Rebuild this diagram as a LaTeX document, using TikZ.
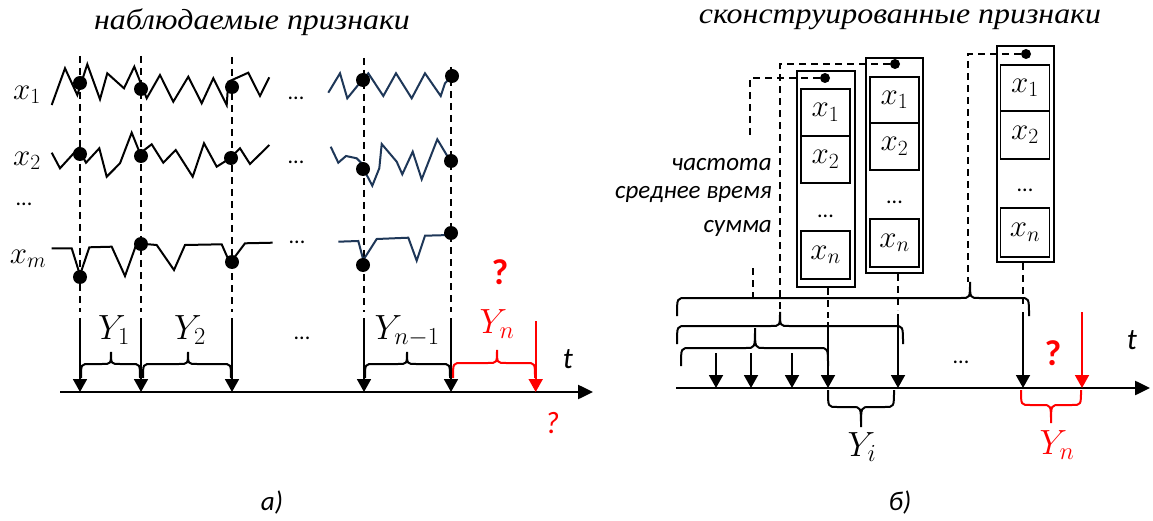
\RequirePackage{fix-cm}
\documentclass[tikz,border=0pt]{standalone}
\usepackage{fontspec}
\setmainfont{Liberation Serif}
\newfontfamily\calfont{Carlito}
\usetikzlibrary{arrows.meta}

\definecolor{signavy}{RGB}{30,55,88}
\definecolor{fcred}{RGB}{255,0,0}

\newcommand{\sz}[1]{\fontsize{#1}{#1}\selectfont}
% [options] x-left, x-right, x-tip, y-line, y-ends, y-tip
\newcommand{\curlybrace}[7][]{%
  \draw[bracepen,#1] (#2,#6) .. controls (#2,#5) .. ({#2+9},#5) -- ({#4-9},#5)
    .. controls (#4,#5) .. (#4,#7) .. controls (#4,#5) .. ({#4+9},#5)
    -- ({#3-9},#5) .. controls (#3,#5) .. (#3,#6);}

\tikzset{
  sig/.style={line width=2pt, line join=miter},
  signal2/.style={sig, draw=signavy},
  guide/.style={line width=2pt, dash pattern=on 7pt off 5pt},
  tickarrow/.style={line width=1.8pt, -{Triangle[length=13pt,width=14pt]}},
  axisline/.style={line width=2.5pt, -{Triangle[length=15pt,width=14pt]}},
  bracepen/.style={line width=2pt},
  bigdot/.style={circle, fill=black, inner sep=0pt, minimum size=14pt},
  smalldot/.style={circle, fill=black, inner sep=0pt, minimum size=10pt},
  cell/.style={draw, line width=1.5pt, minimum width=49pt, inner sep=0pt},
  outerbox/.style={draw, line width=1.6pt, inner sep=0pt},
  mathlbl/.style={inner sep=0pt, font=\sz{31}},
  ylbl/.style={inner sep=0pt, font=\sz{35}},
  sanslbl/.style={inner sep=0pt, font=\calfont\itshape\sz{25}},
  dotslbl/.style={inner sep=0pt, font=\calfont\sz{22}},
  qmark/.style={inner sep=0pt, text=fcred, font=\calfont\bfseries\sz{36}},
}

\begin{document}
\begin{tikzpicture}[x=1pt,y=-1pt]
\useasboundingbox (0,0) rectangle (1153,521);
\fill[white] (0,0) rectangle (1153,521);

% ---------------- panel a: observed features ----------------
\node[inner sep=0pt] (titleA) at (252,22) {\scalebox{1.1}[1]{\sz{29}\itshape наблюдаемые признаки}};

\node[mathlbl] (lx1) at (27,95) {$x_1$};
\node[mathlbl] (lx2) at (27,161) {$x_2$};
\node[dotslbl] (lxd) at (24,204) {...};
\node[mathlbl] (lxm) at (28,259) {$x_m$};

% sampling guides and event arrows
\foreach \i/\x/\t in {1/80/56, 2/141/56, 3/232/57, 4/364/58, 5/451/67} {
  \coordinate (gt\i) at (\x,\t);
  \coordinate (gb\i) at (\x,312);
  \coordinate (at\i) at (\x,318);
  \coordinate (ab\i) at (\x,392);
  \draw[guide] (gt\i) -- (gb\i);
  \draw[tickarrow] (at\i) -- (ab\i);
}

% signal x_1
\draw[sig] (51.7,105) -- (65,68.3) -- (77.3,95) -- (87.3,64.3) -- (100,99.3) -- (107.3,73.3)
  -- (124,88.3) -- (134.3,66.7) -- (146.7,98.3) -- (160,75) -- (173.3,101.7) -- (188.3,76.7)
  -- (201.7,103.3) -- (213.3,78.3) -- (226.7,105) -- (228.3,81.7) -- (248.3,72.7) -- (260,96) -- (269.3,77.3);
\draw[signal2] (328.3,92.7) -- (340,73.3) -- (347.3,98.3) -- (357.3,86) -- (362.7,80) -- (368.3,73.3)
  -- (383.3,96) -- (396,73.3) -- (411.7,98.3) -- (425,73.3) -- (440.7,96) -- (445,83.3) -- (451.7,76);
% signal x_2
\draw[sig] (51.7,152.7) -- (60,168.3) -- (78.3,148.3) -- (86,162.7) -- (99.3,148.3) -- (106.7,176.7)
  -- (120,163.3) -- (131.7,132.7) -- (140,153.3) -- (151.7,144.3) -- (163.3,162.7) -- (175.7,150)
  -- (192.7,176.7) -- (204,143.3) -- (216.7,166.7) -- (230,158.3) -- (240,148.3) -- (250,164) -- (269.3,145);
\draw[signal2] (330.7,146.7) -- (338.3,162.7) -- (346,156) -- (356.7,158.3) -- (361.7,163.3) -- (366.7,175)
  -- (372.3,185.7) -- (379.3,168.3) -- (381.7,144) -- (396.7,161.7) -- (402.3,174.3) -- (412.7,151.7)
  -- (421.7,179.3) -- (437.3,139.3) -- (450.7,161.7);
% signal x_m
\draw[sig] (51.7,248.3) -- (71.7,248.3) -- (80,275) -- (89.3,247.3) -- (111.7,246.7) -- (125,276)
  -- (136.7,243.3) -- (156.7,245) -- (174,270) -- (185,245) -- (221.7,244.3) -- (230,263.3)
  -- (245,243.3) -- (272.7,242.7);
\draw[signal2] (338.3,241.7) -- (358.3,241) -- (363.3,260) -- (376.7,239) -- (408.3,237.7)
  -- (416.7,260.7) -- (425,235.7) -- (450,235);

\node[dotslbl] (ld1) at (296,98) {...};
\node[dotslbl] (ld2) at (296,162) {...};
\node[dotslbl] (ld3) at (297,242) {...};

% samples
\foreach \n/\x/\y in {p11/80/83, p12/141/89, p13/232/87, p14/363/80, p15/452/76,
                      p21/80/154, p22/141/156, p23/231/158, p24/363/169, p25/451/161,
                      p31/80/277, p32/141/244, p33/232/262, p34/363/265, p35/451/233} {
  \node[bigdot] (\n) at (\x,\y) {};
}

% time axis a
\coordinate (axAs) at (60,392);
\coordinate (axAe) at (593,392);
\draw[axisline] (axAs) -- (axAe);
\node[inner sep=0pt, font=\calfont\itshape\sz{30}] (tA) at (568,359) {t};

% red target arrow
\coordinate (rt) at (535.7,321);
\coordinate (rb) at (535.7,392);
\draw[tickarrow, draw=fcred, fill=fcred] (rt) -- (rb);

% interval braces
\curlybrace{81}{140}{111}{364}{378}{352}
\curlybrace{143}{231}{188}{364}{378}{352}
\curlybrace{365}{450}{407}{364}{378}{352}
\curlybrace[draw=fcred]{453}{535}{497}{363}{378}{350}

\node[ylbl] (y1) at (114,330) {$Y_1$};
\node[ylbl] (y2) at (190,330) {$Y_2$};
\node[ylbl] (yn1) at (407,331) {$Y_{n-1}$};
\node[ylbl, text=fcred] (ynA) at (497,324) {$Y_n$};
\node[dotslbl] (ld4) at (302,338) {...};
\node[qmark] (qA) at (500,272) {?};
\node[inner sep=0pt, text=fcred, font=\calfont\itshape\sz{31}] (qA2) at (552,423) {?};

\node[inner sep=0pt, font=\calfont\itshape\sz{27}] (capA) at (272,502) {а)};

% ---------------- panel b: engineered features ----------------
\node[inner sep=0pt] (titleB) at (900,20) {\scalebox{1.1}[1]{\sz{29}\itshape сконструированные признаки}};

% window links from each feature vector
\node[smalldot] (k1) at (825,78) {};
\node[smalldot] (k2) at (895,64) {};
\node[smalldot] (k3) at (1026,54) {};
\coordinate (w1a) at (750,78);
\coordinate (w1b) at (750,135);
\coordinate (w1c) at (753,268);
\coordinate (w1d) at (753,298);
\coordinate (w2a) at (780,64);
\coordinate (w2b) at (780,313);
\coordinate (w3a) at (968,54);
\coordinate (w3b) at (968,282);
\draw[guide] (k1) -- (w1a) -- (w1b);
\draw[guide] (w1c) -- (w1d);
\draw[guide] (k2) -- (w2a) -- (w2b);
\draw[guide] (k3) -- (w3a) -- (w3b);

% feature vectors
\node[outerbox, minimum width=58pt, minimum height=216pt] (vb1) at (826,179) {};
\node[cell, minimum height=47pt] (v1a) at (825.5,112.5) {\sz{31}$x_1$};
\node[cell, minimum height=47pt] (v1b) at (825.5,159.5) {\sz{31}$x_2$};
\node[dotslbl] (v1c) at (825.5,216) {...};
\node[cell, minimum height=48pt] (v1d) at (825.5,255) {\sz{31}$x_n$};

\node[outerbox, minimum width=57pt, minimum height=215pt] (vb2) at (894.5,165.5) {};
\node[cell, minimum height=46pt] (v2a) at (894.5,100) {\sz{31}$x_1$};
\node[cell, minimum height=47pt] (v2b) at (894.5,146.5) {\sz{31}$x_2$};
\node[dotslbl] (v2c) at (894.5,202) {...};
\node[cell, minimum height=48pt] (v2d) at (894.5,243) {\sz{31}$x_n$};

\node[outerbox, minimum width=57pt, minimum height=216pt] (vb3) at (1025.5,154) {};
\node[cell, minimum height=46pt] (v3a) at (1025,88) {\sz{31}$x_1$};
\node[cell, minimum height=48pt] (v3b) at (1025,135) {\sz{31}$x_2$};
\node[dotslbl] (v3c) at (1025,190) {...};
\node[cell, minimum height=49pt] (v3d) at (1025,232.5) {\sz{31}$x_n$};

\node[sanslbl, anchor=east] (f1) at (772,165) {частота};
\node[sanslbl, anchor=east] (f2) at (772,195) {среднее время};
\node[sanslbl, anchor=east] (f3) at (772,228) {сумма};

% feature time stamps
\coordinate (e1a) at (828,288);
\coordinate (e1b) at (828,318);
\coordinate (e1c) at (828,322);
\coordinate (e1d) at (828,388);
\coordinate (e2a) at (898,274);
\coordinate (e2b) at (898,310);
\coordinate (e2c) at (898,314);
\coordinate (e2d) at (898,388);
\coordinate (e3a) at (1023,263);
\coordinate (e3b) at (1023,304);
\coordinate (e3c) at (1023,312);
\coordinate (e3d) at (1023,388);
\draw[guide] (e1a) -- (e1b);
\draw[guide] (e2a) -- (e2b);
\draw[guide] (e3a) -- (e3b);
\draw[tickarrow] (e1c) -- (e1d);
\draw[tickarrow] (e2c) -- (e2d);
\draw[tickarrow] (e3c) -- (e3d);

% raw events
\foreach \i/\x in {1/716, 2/751, 3/792} {
  \coordinate (ev\i) at (\x,353);
  \coordinate (eb\i) at (\x,388);
  \draw[tickarrow] (ev\i) -- (eb\i);
}

% time axis b
\coordinate (axBs) at (676,388);
\coordinate (axBe) at (1150,388);
\draw[axisline] (axBs) -- (axBe);
\node[inner sep=0pt, font=\calfont\itshape\sz{30}] (tB) at (1132,340) {t};

\coordinate (rt2) at (1082,312);
\coordinate (rb2) at (1082,388);
\draw[tickarrow, draw=fcred, fill=fcred] (rt2) -- (rb2);

% aggregation windows
\curlybrace{677}{1029}{970}{298}{316}{282}
\curlybrace{677}{903}{780}{326}{344}{312}
\curlybrace{681}{828}{755}{348}{366}{328}
% target intervals
\curlybrace{828}{894}{861}{407}{390}{427}
\curlybrace[draw=fcred]{1021}{1081}{1051}{405}{390}{423}

\node[ylbl] (yi) at (862,447) {$Y_i$};
\node[ylbl, text=fcred] (ynB) at (1057,445) {$Y_n$};
\node[dotslbl] (bd) at (961,362) {...};
\node[qmark] (qB) at (1053,353) {?};

\node[inner sep=0pt, font=\calfont\itshape\sz{27}] (capB) at (900,502) {б)};
\end{tikzpicture}
\end{document}
